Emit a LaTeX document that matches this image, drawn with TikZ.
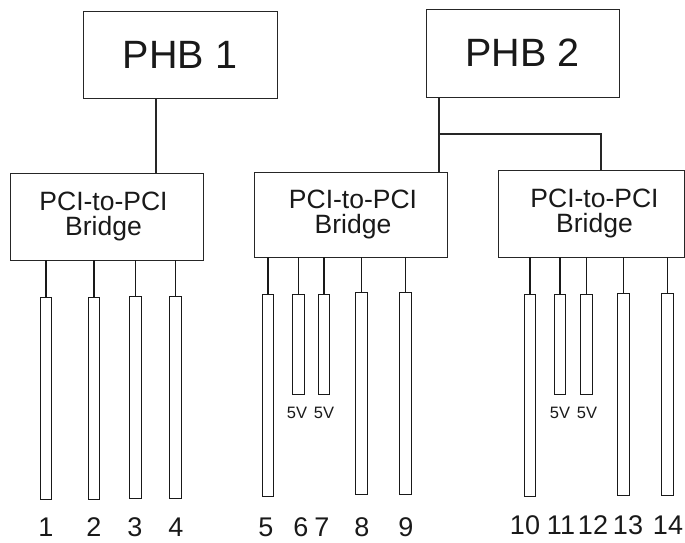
\documentclass[tikz,border=0pt]{standalone}
\usepackage{fontspec}
\setmainfont{Liberation Sans}
\begin{document}
\begin{tikzpicture}[x=1pt,y=1pt,
  box/.style={draw=black!85,line width=0.9pt,inner sep=0pt,align=center,text=black!90},
  phbbox/.style={box,font=\fontsize{39.5}{42}\selectfont},
  brbox/.style={box,font=\fontsize{26.5}{24.5}\selectfont},
  slot/.style={draw=black!90,line width=1.3pt,inner sep=0pt,minimum width=11.5pt,anchor=north},
  longslot/.style={slot,minimum height=202pt},
  shortslot/.style={slot,minimum height=100pt},
  stub/.style={draw=black!90,line width=1.2pt},
  wire/.style={draw=black!85,line width=1.1pt},
  num/.style={font=\fontsize{27}{27}\selectfont,text=black!90,anchor=base,inner sep=0pt},
  volt/.style={font=\fontsize{16.5}{16.5}\selectfont,text=black!90,anchor=base,inner sep=0pt}]
\useasboundingbox (0,0) rectangle (685,-542);
% host bridges
\node[phbbox,minimum width=194pt,minimum height=87pt] (p1) at (180,-54.5) {PHB 1};
\node[phbbox,minimum width=193pt,minimum height=88pt] (p2) at (522.5,-53) {PHB 2};
% PCI-to-PCI bridges
\node[brbox,minimum width=193pt,minimum height=87pt] (b1) at (106.5,-216.5) {PCI-to-PCI\hspace*{6pt}\\Bridge\hspace*{6pt}};
\node[brbox,minimum width=193pt,minimum height=85pt] (b2) at (350.5,-214.5) {\hspace*{5pt}PCI-to-PCI\\\hspace*{5pt}Bridge};
\node[brbox,minimum width=186pt,minimum height=87pt] (b3) at (591,-213.5) {\hspace*{7pt}PCI-to-PCI\\\hspace*{7pt}Bridge};
% wiring between host bridges and bridges
\coordinate (c1) at (156,0);
\coordinate (j1) at (439,-134);
\coordinate (j2) at (601,-134);
\draw[wire] (p1.south -| c1) -- (b1.north -| c1);
\draw[wire] (p2.south -| j1) -- (b2.north -| j1);
\draw[wire] (j1) -- (j2) -- (b3.north -| j2);
% slots
\node[longslot] (s1) at (46,-297) {};
\node[longslot] (s2) at (94,-297) {};
\node[longslot] (s3) at (135.5,-296) {};
\node[longslot] (s4) at (175.5,-296) {};
\node[longslot] (s5) at (268,-294) {};
\node[shortslot] (s6) at (298.5,-294) {};
\node[shortslot] (s7) at (324,-294) {};
\node[longslot] (s8) at (361.5,-292) {};
\node[longslot] (s9) at (405.5,-292) {};
\node[longslot] (s10) at (530,-294) {};
\node[shortslot] (s11) at (560,-294) {};
\node[shortslot] (s12) at (586.5,-294) {};
\node[longslot] (s13) at (623.5,-293) {};
\node[longslot] (s14) at (667.5,-293) {};
% stubs
\foreach \s in {s1,s2,s3,s4} \draw[stub] (b1.south -| \s.north) -- (\s.north);
\foreach \s in {s5,s6,s7,s8,s9} \draw[stub] (b2.south -| \s.north) -- (\s.north);
\foreach \s in {s10,s11,s12,s13,s14} \draw[stub] (b3.south -| \s.north) -- (\s.north);
% 5V labels
\node[volt] (v6) at (297,-418) {5V};
\node[volt] (v7) at (324,-418) {5V};
\node[volt] (v11) at (560,-418) {5V};
\node[volt] (v12) at (587,-418) {5V};
% slot numbers
\node[num] (n1) at (46,-536) {1};
\node[num] (n2) at (94,-536) {2};
\node[num] (n3) at (135,-536) {3};
\node[num] (n4) at (176,-536) {4};
\node[num] (n5) at (266,-536) {5};
\node[num] (n6) at (301,-536) {6};
\node[num] (n7) at (322,-536) {7};
\node[num] (n8) at (362,-536) {8};
\node[num] (n9) at (406,-536) {9};
\node[num] (n10) at (525,-534.5) {10};
\node[num] (n11) at (561,-534.5) {11};
\node[num] (n12) at (593,-534.5) {12};
\node[num] (n13) at (628,-534.5) {13};
\node[num] (n14) at (668,-534.5) {14};
\end{tikzpicture}
\end{document}
